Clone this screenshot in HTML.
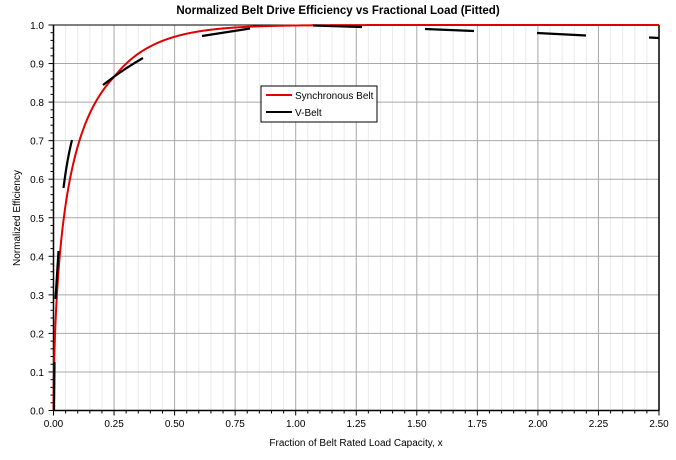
<!DOCTYPE html>
<html><head><meta charset="utf-8"><style>
html,body{margin:0;padding:0;background:#fff;}
svg{display:block;font-family:"Liberation Sans",Arial,sans-serif;}
</style></head><body>
<svg id="s" width="676" height="460" viewBox="0 0 676 460" xmlns="http://www.w3.org/2000/svg">
<rect width="676" height="460" fill="#fff"/>
<g id="grid"></g>
<g id="ticks"></g>
<text x="338" y="14" text-anchor="middle" font-size="11.5" font-weight="bold">Normalized Belt Drive Efficiency vs Fractional Load (Fitted)</text>
<text x="356" y="446" text-anchor="middle" font-size="10">Fraction of Belt Rated Load Capacity, x</text>
<text transform="translate(20,218) rotate(-90)" text-anchor="middle" font-size="10">Normalized Efficiency</text>
<polyline id="red" fill="none" stroke="#e00000" stroke-width="2" points=""/>
<g stroke="#000" stroke-width="2.2" fill="none" stroke-linecap="butt">
<line x1="54" y1="410.5" x2="54.5" y2="362"/>
<line x1="55.5" y1="299" x2="58.5" y2="251"/>
<path d="M63.5,188 Q67,160 72,140"/>
<path d="M103,85 Q122,70 143,58"/>
<line x1="202" y1="36" x2="250" y2="28.5"/>
<line x1="313" y1="25.5" x2="362" y2="27"/>
<line x1="425" y1="29" x2="474" y2="31"/>
<line x1="537" y1="33" x2="586" y2="35.5"/>
<line x1="649" y1="37.5" x2="659" y2="38"/>
</g>
<rect x="261" y="86" width="116" height="36" fill="#fff" stroke="#000" stroke-width="1"/>
<line x1="266" y1="95" x2="292" y2="95" stroke="#e00000" stroke-width="2"/>
<line x1="266" y1="112" x2="292" y2="112" stroke="#000" stroke-width="2"/>
<text x="295" y="99" font-size="10">Synchronous Belt</text>
<text x="295" y="116" font-size="10">V-Belt</text>
</svg>
<script>
var L=53.5,R=659,T=25,B=410.5,ns="http://www.w3.org/2000/svg";
var g=document.getElementById('grid'),t=document.getElementById('ticks');
function ln(p,x1,y1,x2,y2,c,w){var e=document.createElementNS(ns,'line');e.setAttribute('x1',x1);e.setAttribute('y1',y1);e.setAttribute('x2',x2);e.setAttribute('y2',y2);e.setAttribute('stroke',c);e.setAttribute('stroke-width',w);p.appendChild(e);}
function tx(p,x,y,s,a){var e=document.createElementNS(ns,'text');e.setAttribute('x',x);e.setAttribute('y',y);e.setAttribute('font-size','10');e.setAttribute('text-anchor',a);e.textContent=s;p.appendChild(e);}
for(var i=1;i<50;i++){var x=L+(R-L)*i/50;if(i%5)ln(g,x,T,x,B,'#ebebeb',1);}
for(var i=1;i<10;i++){var x=L+(R-L)*i/10;ln(g,x,T,x,B,'#a8a8a8',1);}
for(var i=1;i<10;i++){var y=B-(B-T)*i/10;ln(g,L,y,R,y,'#a8a8a8',1);}
for(var i=0;i<=50;i++){var x=L+(R-L)*i/50;ln(t,x,B,x,B+(i%5?3:5),'#000',1);}
for(var i=0;i<=50;i++){var y=B-(B-T)*i/50;ln(t,L-(i%5?3:5),y,L,y,'#000',1);}
for(var i=0;i<=10;i++){var x=L+(R-L)*i/10;tx(t,x,427,(i*0.25).toFixed(2),'middle');}
for(var i=0;i<=10;i++){var y=B-(B-T)*i/10;tx(t,44,y+4,(i/10).toFixed(1),'end');}
var pts=[];
for(var i=0;i<=2000;i++){var xv=2.5*Math.pow(i/2000,2);var p=0.6+0.25*Math.min(xv/0.6,1);var e=1-Math.exp(-4.6*Math.pow(xv,0.6)*(1+0.6*Math.max(0,xv-0.25)));if(e>1)e=1;pts.push((L+(R-L)*xv/2.5).toFixed(2)+','+(B-(B-T)*e).toFixed(2));}
document.getElementById('red').setAttribute('points',pts.join(' '));
ln(t,L,T,R,T,'#000',1);ln(t,R,T,R,B,'#000',1.5);ln(t,L,T,L,B,'#000',1.5);ln(t,L,B,R,B,'#000',1.5);
</script>
</body></html>
